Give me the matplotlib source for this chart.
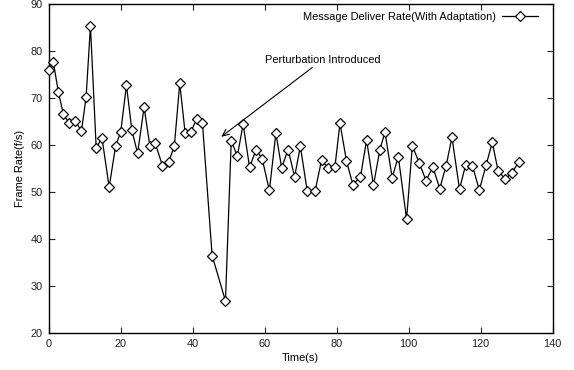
import matplotlib
matplotlib.use("Agg")
import matplotlib.pyplot as plt

# values
time_s = [0.0, 1.3, 2.7, 4.1, 5.7, 7.4, 9.1, 10.4, 11.6, 13.2,
          14.8, 16.8, 18.6, 20.0, 21.6, 23.1, 24.7, 26.5, 28.1, 29.6,
          31.6, 33.3, 34.9, 36.4, 37.9, 39.5, 41.1, 42.7, 45.4, 49.1,
          50.7, 52.4, 54.0, 55.8, 57.6, 59.3, 61.3, 63.1, 64.7, 66.5,
          68.3, 69.9, 71.8, 74.0, 75.8, 77.5, 79.5, 80.9, 82.7, 84.5,
          86.6, 88.3, 90.2, 92.0, 93.4, 95.4, 97.1, 99.4, 101.0, 102.9,
          104.8, 106.7, 108.6, 110.4, 112.0, 114.1, 115.8, 117.7, 119.6, 121.5,
          123.2, 124.8, 126.8, 128.7, 130.6]
frame_rate = [76.0, 77.7, 71.3, 66.6, 64.7, 65.2, 63.0, 70.3, 85.4, 59.4,
              61.6, 51.1, 59.9, 62.8, 72.8, 63.2, 58.3, 68.1, 59.9, 60.4,
              55.7, 56.4, 59.8, 73.2, 62.6, 62.8, 65.7, 64.8, 36.5, 26.9,
              61.0, 57.7, 64.5, 55.3, 59.1, 57.1, 50.4, 62.6, 55.2, 59.1,
              53.3, 59.8, 50.3, 50.3, 56.9, 55.2, 55.4, 64.7, 56.7, 51.6,
              53.3, 61.1, 51.5, 59.1, 62.8, 53.1, 57.6, 44.3, 59.9, 56.3,
              52.5, 55.4, 50.8, 55.7, 61.7, 50.7, 55.8, 55.6, 50.5, 55.8,
              60.7, 54.6, 52.8, 54.2, 56.5]

plt.rcParams["font.family"] = ["Liberation Sans", "DejaVu Sans"]
FS = 7.9

fig = plt.figure(figsize=(5.74, 3.70), dpi=100)
ax = fig.add_axes([0.0848, 0.0992, 0.8782, 0.8892])

ax.plot(time_s, frame_rate, color="black", linewidth=0.9,
        marker="D", markersize=5.6, markerfacecolor="white",
        markeredgecolor="black", markeredgewidth=0.9, clip_on=False,
        zorder=3, label="Message Deliver Rate(With Adaptation)")

ax.annotate("Perturbation Introduced", xy=(47.9, 61.8), xytext=(60.0, 78.2),
            fontsize=FS, va="center", ha="left",
            arrowprops=dict(arrowstyle="->,head_length=0.5,head_width=0.22",
                            color="black", lw=0.8,
                            mutation_scale=10, shrinkA=0, shrinkB=0))

ax.set_xlim(0, 140)
ax.set_ylim(20, 90)
ax.set_xticks(range(0, 141, 20))
ax.set_yticks(range(20, 91, 10))
ax.tick_params(direction="in", top=True, right=True, labelsize=FS,
               length=4, width=0.8, colors="#222222", pad=4)
for s in ax.spines.values():
    s.set_linewidth(1.0)

ax.set_xlabel("Time(s)", fontsize=FS, labelpad=3)
ax.set_ylabel("Frame Rate(f/s)", fontsize=FS, labelpad=4)

leg = ax.legend(loc="upper right", bbox_to_anchor=(0.985, 1.0), fontsize=FS,
                frameon=False, markerfirst=False, handlelength=3.2,
                handletextpad=0.6, borderaxespad=0.3)

fig.savefig("out.png", dpi=100)
